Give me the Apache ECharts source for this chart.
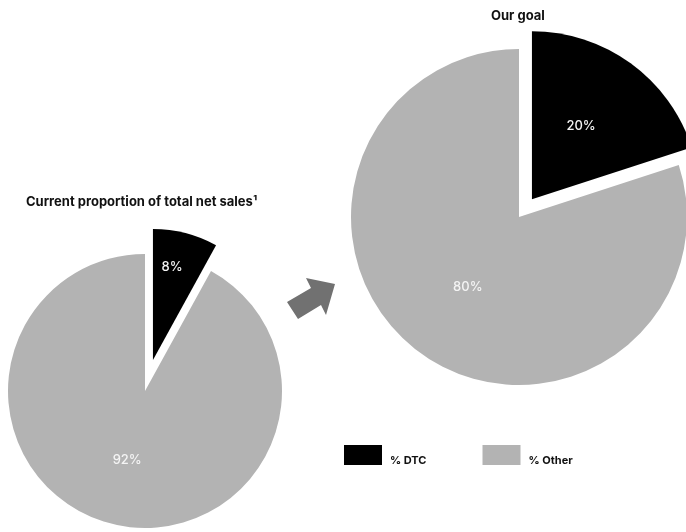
<!DOCTYPE html>
<html>
<head>
<meta charset="utf-8">
<script src="https://cdn.jsdelivr.net/npm/echarts@6/dist/echarts.min.js"></script>
<style>
html, body { margin: 0; background: #fff; }
#main { width: 686px; height: 532px; }
</style>
</head>
<body>
<div id="main"></div>
<script>
// share of total net sales, in percent
var sliceNames = ['% DTC', '% Other'];
var currentShare = [8, 92];
var goalShare = [20, 80];
var pieTitles = ['Current proportion of total net sales\u00b9', 'Our goal'];

var GRAY = '#b3b3b3';
var CLEAR = 'rgba(0,0,0,0)';
var FONT = 'Inter';

// each pie is two layers: the gray "other" part, and the pulled-out black DTC slice
function pieLayers(values, center, r, rDtc, offset, dtcShift) {
	var labelStyle = {
		show: true,
		position: 'inside',
		formatter: '{c}%',
		color: '#f4f4f4',
		fontFamily: FONT,
		fontWeight: 500,
		fontSize: 13
	};
	var other = {
		type: 'pie',
		center: center,
		radius: r,
		silent: true,
		label: labelStyle,
		labelLine: { show: false },
		data: [
			{ name: sliceNames[0], value: values[0], itemStyle: { color: CLEAR }, label: { show: false } },
			{ name: sliceNames[1], value: values[1], itemStyle: { color: GRAY } }
		]
	};
	var dtc = {
		type: 'pie',
		center: center,
		radius: rDtc,
		silent: true,
		selectedMode: 'single',
		selectedOffset: offset,
		label: labelStyle,
		labelLine: { show: false },
		labelLayout: function (params) {
			return params.dataIndex === 0 ? { dx: dtcShift[0], dy: dtcShift[1] } : {};
		},
		data: [
			{ name: sliceNames[0], value: values[0], selected: true, itemStyle: { color: '#000' } },
			{ name: sliceNames[1], value: values[1], itemStyle: { color: CLEAR }, label: { show: false } }
		]
	};
	return [other, dtc];
}

var myChart = echarts.init(document.getElementById('main'));
var option = {
	animation: false,
	backgroundColor: '#fff',
	title: [{
		text: pieTitles[0],
		left: 26,
		top: 196,
		padding: 0,
		textStyle: { fontFamily: FONT, fontWeight: 'bold', fontSize: 13, color: '#111' }
	}, {
		text: pieTitles[1],
		left: 491,
		top: 10,
		padding: 0,
		textStyle: { fontFamily: FONT, fontWeight: 'bold', fontSize: 13, color: '#111' }
	}],
	legend: {
		left: 344,
		top: 445,
		padding: 0,
		itemWidth: 38,
		itemHeight: 20,
		itemGap: 56,
		icon: 'rect',
		selectedMode: false,
		data: [
			{ name: sliceNames[0], itemStyle: { color: '#000' } },
			{ name: sliceNames[1], itemStyle: { color: GRAY } }
		],
		formatter: '{t|{name}}',
		textStyle: {
			fontFamily: FONT, fontWeight: 'bold', fontSize: 11, color: '#111',
			rich: { t: { fontFamily: FONT, fontWeight: 'bold', fontSize: 11, color: '#111', padding: [12, 0, 0, 3] } }
		}
	},
	graphic: [{
		type: 'polygon',
		shape: {
			points: [[287, 302], [298, 319], [321, 305], [326, 315], [335, 284], [306, 278], [311, 288]]
		},
		style: { fill: '#717171' }
	}],
	series: [].concat(
		pieLayers(currentShare, [145, 391], 137, 131, 32, [2, -27]),
		pieLayers(goalShare, [519, 217], 168, 168, 22, [-2, -3])
	)
};
myChart.setOption(option);
</script>
</body>
</html>
